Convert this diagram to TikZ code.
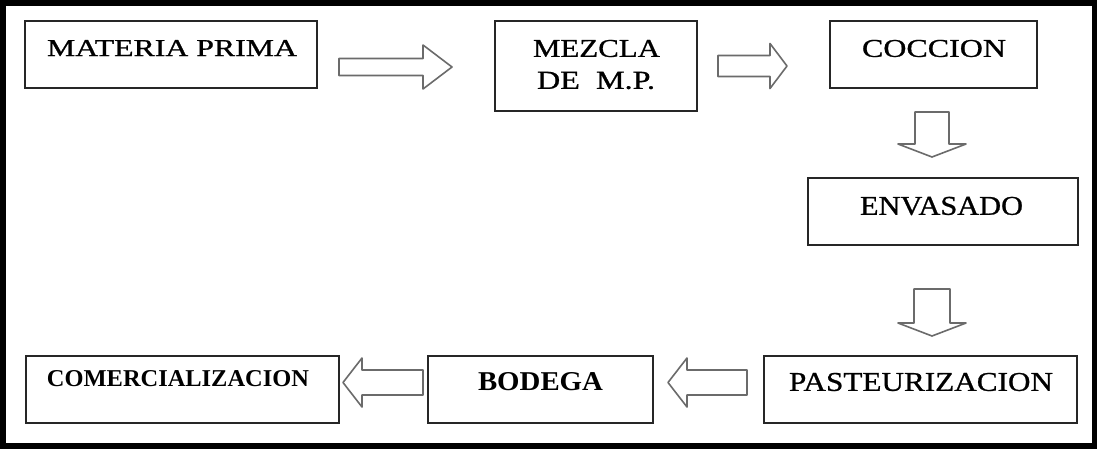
\documentclass[tikz,border=0pt]{standalone}
\usepackage{fontspec}
\setmainfont{Liberation Serif}
\newfontfamily\midserif[FakeBold=0.8]{Liberation Serif}
\usepackage{graphicx}
\tikzset{
  stagebox/.style={draw=black!85, line width=1.3pt, fill=white, inner sep=0pt},
  stagetext/.style={inner sep=0pt, text=black},
  blockarrow/.style={draw=black!58, line width=1.6pt, fill=white, line join=round},
  outerframe/.style={draw=black, line width=6pt}
}
\newcommand\harrowshape[6]{% tail x, back x, tip x, center y, shaft half, head half
  \draw[blockarrow] (#1,#4-#5) -- (#2,#4-#5) -- (#2,#4-#6) -- (#3,#4) -- (#2,#4+#6) -- (#2,#4+#5) -- (#1,#4+#5) -- cycle;}
\newcommand\varrowshape[6]{% center x, top y, back y, tip y, shaft half, head half
  \draw[blockarrow] (#1-#5,#2) -- (#1-#5,#3) -- (#1-#6,#3) -- (#1,#4) -- (#1+#6,#3) -- (#1+#5,#3) -- (#1+#5,#2) -- cycle;}
\begin{document}
\begin{tikzpicture}[x=1pt,y=-1pt]
\useasboundingbox (0,0) rectangle (1097,448);
\fill[white] (0,0) rectangle (1097,448);
\draw[outerframe] (3,3) rectangle (1094.5,445.5);

% boxes
\node[stagebox, minimum width=292pt, minimum height=67pt] (mp) at (171,54.5) {};
\node[stagebox, minimum width=202pt, minimum height=90pt] (mez) at (596,66) {};
\node[stagebox, minimum width=207pt, minimum height=67pt] (coc) at (933.5,54.5) {};
\node[stagebox, minimum width=270pt, minimum height=67pt] (env) at (943,211.5) {};
\node[stagebox, minimum width=313pt, minimum height=67pt] (past) at (920.5,389.5) {};
\node[stagebox, minimum width=225pt, minimum height=67pt] (bod) at (540.5,389.5) {};
\node[stagebox, minimum width=313pt, minimum height=67pt] (com) at (182.5,389.5) {};

% texts
\node[stagetext] (tmp) at (172,48) {\resizebox{250pt}{16pt}{\midserif MATERIA PRIMA}};
\node[stagetext] (tmez1) at (596.5,48.5) {\resizebox{127pt}{17pt}{\midserif MEZCLA}};
\node[stagetext] (tmez2) at (596,80.5) {\resizebox{118pt}{17pt}{\midserif DE\ \ M.P.}};
\node[stagetext] (tcoc) at (934,48.5) {\resizebox{144pt}{17pt}{\midserif COCCION}};
\node[stagetext] (tenv) at (941.5,206) {\resizebox{163pt}{18pt}{\midserif ENVASADO}};
\node[stagetext] (tpast) at (921,382) {\resizebox{264pt}{18pt}{\midserif PASTEURIZACION}};
\node[stagetext] (tbod) at (540.5,382) {\resizebox{125pt}{18pt}{\bfseries BODEGA}};
\node[stagetext] (tcom) at (178,379) {\resizebox{262pt}{16pt}{\bfseries COMERCIALIZACION}};

% block arrows
\harrowshape{339}{423}{452}{67}{8.5}{22}
\harrowshape{718}{770}{787}{66}{10.5}{22.5}
\varrowshape{932}{112}{144}{157}{17}{34}
\varrowshape{932}{289}{323}{336}{18}{34}
\harrowshape{747}{687}{668}{382.5}{12.5}{24.5}
\harrowshape{423}{362}{343}{382.5}{12.5}{24.5}
\end{tikzpicture}
\end{document}
